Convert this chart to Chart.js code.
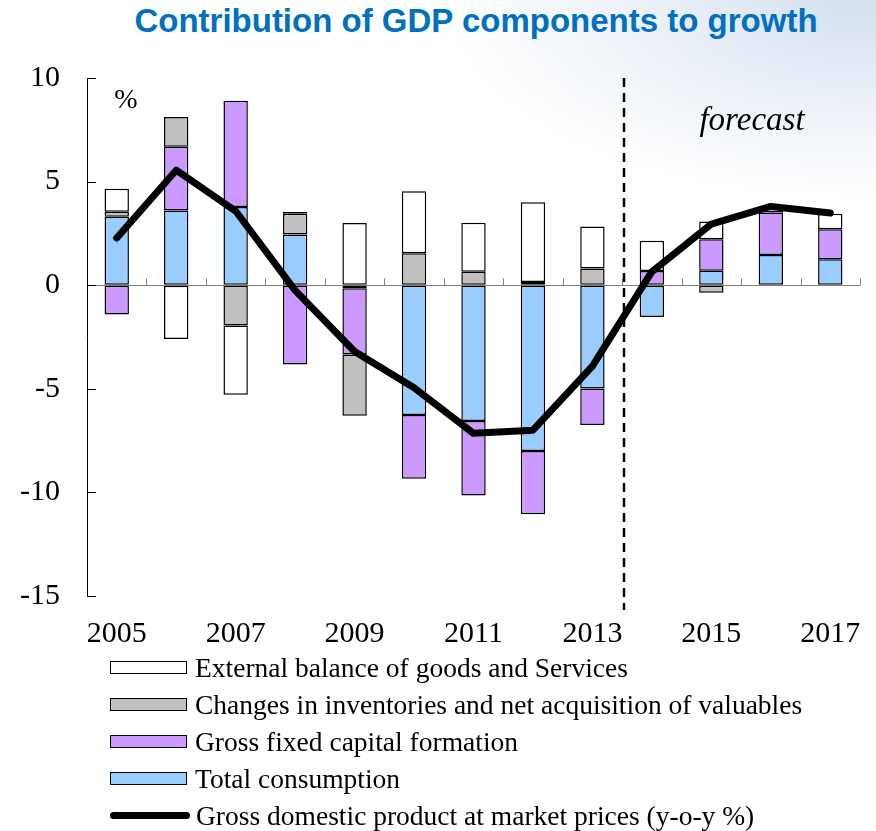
<!DOCTYPE html>
<html>
<head>
<meta charset="utf-8">
<script src="https://cdn.jsdelivr.net/npm/chart.js@4.4.0/dist/chart.umd.min.js"></script>
<style>
  body { margin: 0; width: 876px; height: 831px; overflow: hidden;
    background: radial-gradient(ellipse 420px 200px at 860px 0px, #d3dfee 0%, #e9eff7 45%, rgba(255,255,255,0) 100%), #ffffff; }
  #wrap { position: relative; width: 876px; height: 831px; }
  #title { position: absolute; left: 0; width: 952px; top: 2px; line-height: 40px; text-align: center;
    font: bold 33px "Liberation Sans", Arial, sans-serif; color: #0070C0; }
  #myChart { position: absolute; left: 0; top: 0; }
  #legend { position: absolute; left: 110px; top: 649px; font-family: "Liberation Serif", "Times New Roman", serif; font-size: 27.5px; color: #000; }
  .row { display: flex; align-items: center; height: 37px; }
  .box { width: 75px; height: 11px; border: 1.8px solid #000; margin-right: 8px; }
  .line { width: 80px; height: 7px; background: #000; border-radius: 4px; margin-right: 6px; }
</style>
</head>
<body>
<div id="wrap">
  <div id="title">Contribution of GDP components to growth</div>
  <canvas id="myChart" width="876" height="664"></canvas>
  <div id="legend"></div>
</div>
<script>
// data
const years = ['2005','2006','2007','2008','2009','2010','2011','2012','2013','2014','2015','2016','2017'];
const consumption = [3.3, 3.6, 3.77, 2.45, -0.15, -6.26, -6.55, -8.0, -4.98, -1.54, 0.7, 1.46, 1.25];
const capital = [-1.42, 3.08, 5.13, -3.83, -3.2, -3.08, -3.6, -3.05, -1.77, 0.68, 1.52, 2.05, 1.45];
const inventories = [0.25, 1.44, -1.94, 1.0, -2.95, 1.54, 0.65, 0.15, 0.81, null, -0.36, null, null];
const external = [1.1, -2.6, -3.35, 0.08, 3.0, 2.99, 2.37, 3.85, 2.02, 1.46, 0.85, 0.25, 0.75];
const gdp = [2.28, 5.55, 3.58, -0.25, -3.2, -4.95, -7.15, -7.0, -3.9, 0.65, 2.95, 3.8, 3.48];
const yTicks = [10, 5, 0, -5, -10, -15];

const serif = '"Liberation Serif", "Times New Roman", serif';

// zero line, inner ticks, forecast divider and notes
const extras = {
  id: 'extras',
  beforeDatasetsDraw(chart) {
    const { ctx, chartArea, scales } = chart;
    const y0 = Math.round(scales.y.getPixelForValue(0)) + 0.5;
    ctx.save();
    ctx.strokeStyle = '#808080';
    ctx.lineWidth = 1;
    ctx.beginPath();
    ctx.moveTo(chartArea.left, y0);
    ctx.lineTo(chartArea.right, y0);
    for (let i = 1; i <= years.length; i++) {
      const x = Math.round(scales.x.getPixelForValue(i - 0.5)) + 0.5;
      ctx.moveTo(x, y0);
      ctx.lineTo(x, y0 - 7);
    }
    ctx.stroke();
    ctx.strokeStyle = '#000';
    ctx.beginPath();
    yTicks.forEach(v => {
      const y = Math.round(scales.y.getPixelForValue(v)) + 0.5;
      ctx.moveTo(chartArea.left, y);
      ctx.lineTo(chartArea.left + 9, y);
    });
    ctx.stroke();
    ctx.restore();
  },
  afterDatasetsDraw(chart) {
    const { ctx, chartArea, scales } = chart;
    ctx.save();
    const xd = Math.round(scales.x.getPixelForValue(8.525));
    ctx.strokeStyle = '#000';
    ctx.lineWidth = 2.5;
    ctx.setLineDash([9, 6]);
    ctx.beginPath();
    ctx.moveTo(xd, chartArea.top);
    ctx.lineTo(xd, chartArea.bottom + 14);
    ctx.stroke();
    ctx.setLineDash([]);
    ctx.fillStyle = '#000';
    ctx.textAlign = 'center';
    ctx.textBaseline = 'middle';
    ctx.font = '28px ' + serif;
    ctx.fillText('%', chartArea.left + 39, chartArea.top + 23);
    ctx.font = 'italic 33px ' + serif;
    ctx.fillText('forecast', 752, scales.y.getPixelForValue(7.9));
    ctx.restore();
  }
};

const barStyle = { borderColor: '#000', borderWidth: 1.5, borderSkipped: false, order: 1, stack: 's' };

const myChart = new Chart(document.getElementById('myChart').getContext('2d'), {
  type: 'bar',
  data: {
    labels: years,
    datasets: [
      { label: 'Total consumption', data: consumption, backgroundColor: '#99CCFF', ...barStyle },
      { label: 'Gross fixed capital formation', data: capital, backgroundColor: '#CC99FF', ...barStyle },
      { label: 'Changes in inventories and net acquisition of valuables', data: inventories, backgroundColor: '#C0C0C0', ...barStyle },
      { label: 'External balance of goods and Services', data: external, backgroundColor: '#FFFFFF', ...barStyle },
      { type: 'line', label: 'Gross domestic product at market prices (y-o-y %)', data: gdp,
        borderColor: '#000', borderWidth: 7, pointRadius: 0, tension: 0,
        borderCapStyle: 'round', borderJoinStyle: 'round', order: 0 }
    ]
  },
  options: {
    responsive: false,
    animation: false,
    devicePixelRatio: 1,
    layout: { padding: { top: 78, right: 16, left: 20, bottom: 0 } },
    plugins: { legend: { display: false }, tooltip: { enabled: false } },
    datasets: { bar: { barPercentage: 0.41, categoryPercentage: 1 } },
    scales: {
      x: {
        stacked: true,
        grid: { display: false },
        border: { display: false },
        ticks: {
          autoSkip: false, maxRotation: 0, padding: 12, color: '#000',
          font: { family: serif, size: 30 },
          callback: (v, i) => (i % 2 === 0 ? years[i] : '')
        }
      },
      y: {
        stacked: true,
        min: -15, max: 10,
        afterBuildTicks: (axis) => { axis.ticks = yTicks.map(v => ({ value: v })); },
        afterFit: (axis) => { axis.width = 67; },
        grid: { drawOnChartArea: false, drawTicks: false },
        border: { display: true, color: '#000', width: 1 },
        ticks: { padding: 27, color: '#000', font: { family: serif, size: 30 } }
      }
    }
  },
  plugins: [extras]
});

// legend in the reference order
const legendItems = [3, 2, 1, 0, 4];
const legend = document.getElementById('legend');
legendItems.forEach(i => {
  const ds = myChart.data.datasets[i];
  const row = document.createElement('div');
  row.className = 'row';
  const mark = document.createElement('span');
  if (ds.type === 'line') {
    mark.className = 'line';
  } else {
    mark.className = 'box';
    mark.style.background = ds.backgroundColor;
  }
  row.appendChild(mark);
  row.appendChild(document.createTextNode(ds.label));
  legend.appendChild(row);
});
</script>
</body>
</html>
